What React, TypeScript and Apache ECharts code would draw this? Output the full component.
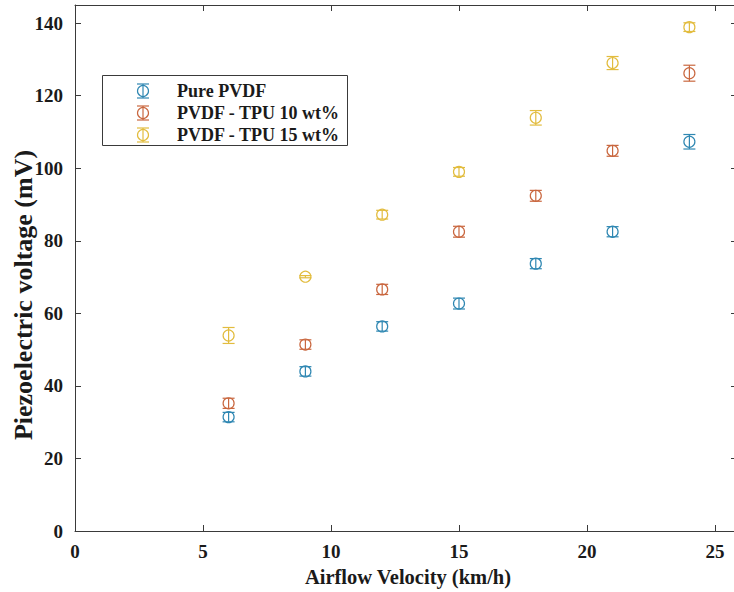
import React, { useEffect, useRef } from "react";
import * as echarts from "echarts";

const velocities = [6, 9, 12, 15, 18, 21, 24];
const seriesNames = ["Pure PVDF", "PVDF - TPU 10 wt%", "PVDF - TPU 15 wt%"];
const purePVDF = [31.4, 44.0, 56.4, 62.7, 73.7, 82.5, 107.3];
const purePVDFErr = [1.3, 1.3, 1.3, 1.5, 1.4, 1.4, 2.0];
const tpu10 = [35.2, 51.4, 66.6, 82.5, 92.4, 104.8, 126.2];
const tpu10Err = [1.4, 1.3, 1.4, 1.5, 1.5, 1.5, 2.2];
const tpu15 = [53.9, 70.1, 87.2, 99.0, 113.9, 129.0, 138.9];
const tpu15Err = [2.2, 0.3, 1.2, 1.2, 2.0, 1.8, 1.2];
const xTitle = "Airflow Velocity (km/h)";
const yTitle = "Piezoelectric voltage (mV)";
const xRange = [0, 25.86];
const yRange = [0, 145];
const colors = ["#2f87b2", "#c9673f", "#e2bc3e"];

const FONT = "'Liberation Serif', 'Times New Roman', serif";
const AXIS_COLOR = "#3a3a3a";
const TEXT_COLOR = "#1a1a1a";
const R = 5.5;
const CAP = 6;

function makeSeries(name: string, vals: number[], errs: number[], color: string) {
  return {
    type: "custom",
    name,
    xAxisIndex: 0,
    yAxisIndex: 0,
    data: velocities.map((x, i) => [x, vals[i], errs[i]]),
    encode: { x: 0, y: 1 },
    renderItem: (params: any, api: any) => {
      const x = api.value(0);
      const y = api.value(1);
      const e = api.value(2);
      const c = api.coord([x, y]);
      const top = api.coord([x, y + e]);
      const bot = api.coord([x, y - e]);
      const st = { stroke: color, fill: "none", lineWidth: 1.2 };
      return {
        type: "group",
        children: [
          { type: "circle", shape: { cx: c[0], cy: c[1], r: R }, style: st },
          { type: "line", shape: { x1: c[0], y1: top[1], x2: c[0], y2: bot[1] }, style: st },
          { type: "line", shape: { x1: c[0] - CAP, y1: top[1], x2: c[0] + CAP, y2: top[1] }, style: st },
          { type: "line", shape: { x1: c[0] - CAP, y1: bot[1], x2: c[0] + CAP, y2: bot[1] }, style: st },
        ],
      };
    },
  };
}

function graphics() {
  const rowsY = [91, 113, 135];
  const iconX = 143;
  const children: any[] = [
    {
      type: "rect",
      shape: { x: 102.5, y: 75.5, width: 245, height: 70 },
      style: { fill: "#fff", stroke: AXIS_COLOR, lineWidth: 1 },
    },
  ];
  rowsY.forEach((y, i) => {
    const st = { stroke: colors[i], fill: "none", lineWidth: 1.2 };
    children.push(
      { type: "circle", shape: { cx: iconX, cy: y, r: R }, style: st },
      { type: "line", shape: { x1: iconX, y1: y - 7, x2: iconX, y2: y + 7 }, style: st },
      { type: "line", shape: { x1: iconX - CAP, y1: y - 7, x2: iconX + CAP, y2: y - 7 }, style: st },
      { type: "line", shape: { x1: iconX - CAP, y1: y + 7, x2: iconX + CAP, y2: y + 7 }, style: st },
      {
        type: "text",
        x: 177,
        y,
        style: {
          text: seriesNames[i],
          font: `bold 18px ${FONT}`,
          fill: TEXT_COLOR,
          verticalAlign: "middle",
          align: "left",
        },
      }
    );
  });
  return [
    { type: "group", children, z: 100 },
    {
      type: "text",
      x: 408,
      y: 577,
      style: {
        text: xTitle,
        font: `bold 20.5px ${FONT}`,
        fill: TEXT_COLOR,
        align: "center",
        verticalAlign: "middle",
      },
    },
    {
      type: "text",
      x: 23,
      y: 295,
      rotation: Math.PI / 2,
      style: {
        text: yTitle,
        font: `bold 26px ${FONT}`,
        fill: TEXT_COLOR,
        align: "center",
        verticalAlign: "middle",
      },
    },
  ];
}

export default function App() {
  const ref = useRef<HTMLDivElement>(null);
  useEffect(() => {
    if (!ref.current) return;
    const chart = echarts.init(ref.current, null, { renderer: "svg" });
    const axisLine = { show: true, onZero: false, lineStyle: { color: AXIS_COLOR, width: 1 } };
    const tick = { show: true, inside: true, length: 6, lineStyle: { color: AXIS_COLOR } };
    const labelStyle = { fontFamily: FONT, fontWeight: "bold" as const, fontSize: 19, color: TEXT_COLOR };
    chart.setOption({
      animation: false,
      backgroundColor: "#fff",
      grid: { left: 75, top: 5, right: 4, bottom: 61, containLabel: false },
      xAxis: [
        {
          type: "value",
          min: xRange[0],
          max: xRange[1],
          interval: 5,
          position: "bottom",
          axisLine,
          axisTick: tick,
          axisLabel: { ...labelStyle, margin: 11, showMaxLabel: false },
          splitLine: { show: false },
        },
        {
          type: "value",
          min: xRange[0],
          max: xRange[1],
          interval: 5,
          position: "top",
          axisLine,
          axisTick: tick,
          axisLabel: { show: false },
          splitLine: { show: false },
        },
      ],
      yAxis: [
        {
          type: "value",
          min: yRange[0],
          max: yRange[1],
          interval: 20,
          position: "left",
          axisLine,
          axisTick: tick,
          axisLabel: { ...labelStyle, margin: 12, showMaxLabel: false },
          splitLine: { show: false },
        },
        {
          type: "value",
          min: yRange[0],
          max: yRange[1],
          interval: 20,
          position: "right",
          axisLine,
          axisTick: tick,
          axisLabel: { show: false },
          splitLine: { show: false },
        },
      ],
      series: [
        makeSeries(seriesNames[0], purePVDF, purePVDFErr, colors[0]),
        makeSeries(seriesNames[1], tpu10, tpu10Err, colors[1]),
        makeSeries(seriesNames[2], tpu15, tpu15Err, colors[2]),
      ],
      graphic: graphics(),
    });
    return () => chart.dispose();
  }, []);
  return (
    <div
      style={{
        position: "fixed",
        left: 0,
        top: 0,
        width: 734,
        height: 592,
        overflow: "hidden",
        background: "#fff",
      }}
    >
      <div ref={ref} style={{ width: 741, height: 592 }} />
    </div>
  );
}
